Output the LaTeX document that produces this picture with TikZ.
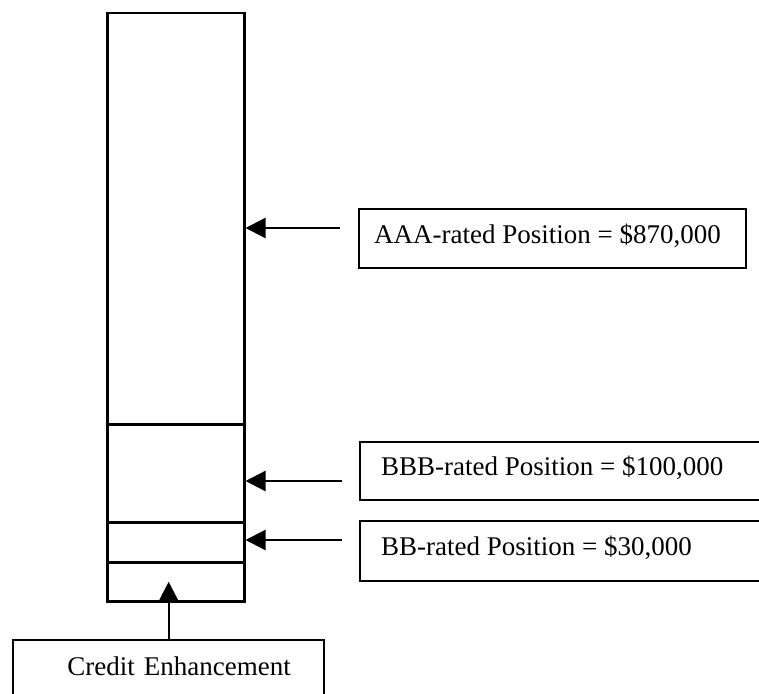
\documentclass[tikz,border=0pt]{standalone}
\usepackage{fontspec}
\setmainfont{Liberation Serif}
\usetikzlibrary{arrows.meta,calc}
\begin{document}
\begin{tikzpicture}[x=1bp,y=-1bp,
  seg/.style={draw, line width=2.5bp, minimum width=137bp, anchor=north west, inner sep=0pt},
  lab/.style={draw, line width=2.3bp, anchor=north west, align=flush left, text height=19bp, text depth=10bp, inner ysep=0pt, font=\fontsize{27bp}{32bp}\selectfont},
  arr/.style={line width=2.3bp, -{Triangle[length=20bp,width=20bp]}}]
\useasboundingbox (0,0) rectangle (759,694);
\clip (0,0) rectangle (759,694);
% column segments
\node[seg, minimum height=411bp] (s1) at (106,12) {};
\node[seg, minimum height=98bp] (s2) at (106,423) {};
\node[seg, minimum height=40bp] (s3) at (106,521) {};
\node[seg, minimum height=39bp] (s4) at (106,561) {};
% label boxes
\node[lab, minimum height=59bp, inner xsep=15bp, text width=357bp] (aaa) at (358,208) {AAA-rated Position = \$870,000};
\node[lab, minimum height=58bp, inner xsep=21bp, text width=380bp] (bbb) at (359,441) {BBB-rated Position = \$100,000};
\node[lab, minimum height=60bp, inner xsep=21bp, text width=380bp] (bb) at (359,520) {BB-rated Position = \$30,000};
\node[lab, align=center, minimum height=61bp, inner xsep=0pt, text width=311bp] (ce) at (12,639) {\hspace*{21bp}Credit Enhancement};
% arrows
\coordinate (ya) at (0,228);
\coordinate (yb) at (0,481);
\coordinate (yc) at (0,540);
\draw[arr] ($(aaa.west |- ya)+(-18,0)$) -- (s1.east |- ya);
\draw[arr] ($(bbb.west |- yb)+(-17,0)$) -- (s2.east |- yb);
\draw[arr] ($(bb.west |- yc)+(-17,0)$) -- (s3.east |- yc);
\draw[arr] (ce.north) -- (ce.north |- s4.center);
\end{tikzpicture}
\end{document}
